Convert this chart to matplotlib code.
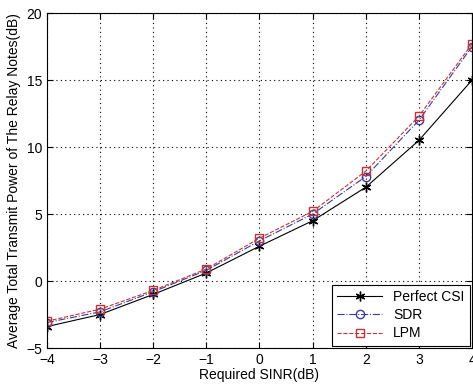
import matplotlib
matplotlib.use('Agg')
import matplotlib.pyplot as plt

sinr = [-4, -3, -2, -1, 0, 1, 2, 3, 4]
perfect_csi = [-3.4, -2.5, -1.0, 0.6, 2.6, 4.5, 7.0, 10.5, 15.0]
sdr = [-3.1, -2.3, -0.8, 0.8, 3.0, 5.0, 7.8, 12.0, 17.5]
lpm = [-3.0, -2.1, -0.7, 0.9, 3.2, 5.2, 8.2, 12.3, 17.7]

plt.rcParams['font.family'] = ['Liberation Sans', 'DejaVu Sans']

fig = plt.figure(figsize=(4.73, 3.85), dpi=100)
ax = fig.add_axes([0.099, 0.096, 0.899, 0.870])

ax.plot(sinr, perfect_csi, color='black', linestyle='-', linewidth=0.8,
        marker=(6, 2, 0), markersize=7, markeredgewidth=1.0, label='Perfect CSI')
ax.plot(sinr, sdr, color='#3a3aa0', linestyle='-.', linewidth=0.8,
        marker='o', markersize=6, markerfacecolor='none', label='SDR')
ax.plot(sinr, lpm, color='#c83232', linestyle='--', linewidth=0.8,
        marker='s', markersize=6, markerfacecolor='none', label='LPM')

ax.set_xlim(-4, 4)
ax.set_ylim(-5, 20)
ax.set_xticks(range(-4, 5))
ax.set_yticks(range(-5, 21, 5))
ax.grid(True, linestyle=(0, (1, 3)), color='black', linewidth=0.8)
ax.tick_params(direction='in', top=True, right=True, labelsize=10, length=4)
for s in ax.spines.values():
    s.set_linewidth(0.8)

ax.set_xlabel('Required SINR(dB)', fontsize=10, labelpad=1)
ax.set_ylabel('Average Total Transmit Power of The Relay Notes(dB)', fontsize=10, labelpad=4)

leg = ax.legend(loc='lower right', fontsize=10, fancybox=False, framealpha=1,
                edgecolor='black', borderaxespad=0.15, handlelength=3.2,
                labelspacing=0.3)
leg.get_frame().set_linewidth(0.8)

fig.savefig('out.png', dpi=100)
